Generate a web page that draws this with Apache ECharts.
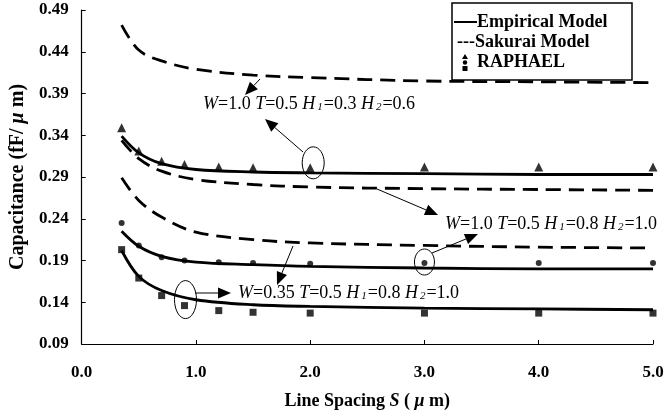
<!DOCTYPE html>
<html>
<head>
<meta charset="utf-8">
<script src="https://cdn.jsdelivr.net/npm/echarts@6/dist/echarts.min.js"></script>
<style>
  html, body { margin: 0; padding: 0; background: #fff; }
  #chart { width: 667px; height: 415px; }
</style>
</head>
<body>
<div id="chart"></div>
<script>
// Line spacing values (um) for the RAPHAEL field-solver points
const spacingRaphael = [0.35, 0.5, 0.7, 0.9, 1.2, 1.5, 2.0, 3.0, 4.0, 5.0];
// Line spacing values (um) for the model curves
const spacingModel = [0.35, 0.5, 0.7, 1.0, 1.5, 2.0, 3.0, 4.0, 5.0];

// W=1.0 T=0.5 H1=0.3 H2=0.6
const raphaelA   = [0.349, 0.321, 0.309, 0.305, 0.302, 0.301, 0.301, 0.302, 0.302, 0.302];
const empiricalA = [0.339, 0.319, 0.306, 0.299, 0.296, 0.295, 0.294, 0.293, 0.293];
const sakuraiA   = [0.472, 0.442, 0.429, 0.419, 0.412, 0.409, 0.405, 0.404, 0.403];

// W=1.0 T=0.5 H1=0.8 H2=1.0
const raphaelB   = [0.235, 0.208, 0.194, 0.190, 0.188, 0.187, 0.186, 0.187, 0.187, 0.187];
const empiricalB = [0.225, 0.207, 0.195, 0.188, 0.185, 0.183, 0.181, 0.180, 0.180];
const sakuraiB   = [0.334, 0.312, 0.297, 0.287, 0.281, 0.278, 0.276, 0.275, 0.274];

// W=0.35 T=0.5 H1=0.8 H2=1.0
const raphaelC   = [0.203, 0.169, 0.148, 0.136, 0.130, 0.128, 0.127, 0.127, 0.127, 0.127];
const empiricalC = [0.202, 0.171, 0.154, 0.143, 0.137, 0.135, 0.133, 0.132, 0.131];
const sakuraiC   = [0.289, 0.262, 0.242, 0.224, 0.215, 0.211, 0.208, 0.206, 0.205];

const yTicks = [0.09, 0.14, 0.19, 0.24, 0.29, 0.34, 0.39, 0.44, 0.49];
const xTicks = [0.0, 1.0, 2.0, 3.0, 4.0, 5.0];

const FONT = '"Liberation Serif", "DejaVu Serif", serif';
const pair = (xs, ys) => xs.map((x, i) => [x, ys[i]]);

function solid(name, ys) {
  return { name, type: 'line', data: pair(spacingModel, ys), smooth: 0.35,
    showSymbol: false, lineStyle: { color: '#000', width: 2.8 }, z: 3, silent: true };
}
function dashed(name, ys) {
  return { name, type: 'line', data: pair(spacingModel, ys), smooth: 0.35,
    showSymbol: false, lineStyle: { color: '#000', width: 2.8, type: [15, 8] }, z: 2, silent: true };
}
function points(name, ys, symbol, size) {
  return { name, type: 'scatter', data: pair(spacingRaphael, ys), symbol, symbolSize: size,
    itemStyle: { color: '#000' }, z: 4, silent: true };
}

const chart = echarts.init(document.getElementById('chart'), null, { renderer: 'canvas' });

const rich = {
  i: { fontFamily: FONT, fontStyle: 'italic', fontSize: 18, color: '#000' },
  n: { fontFamily: FONT, fontSize: 18, color: '#000' },
  s: { fontFamily: FONT, fontStyle: 'italic', fontSize: 11, color: '#000', verticalAlign: 'bottom', padding: [7, 1, 0, 2] }
};
function paramText(w, t, h1, h2) {
  return '{i|W}{n|=' + w + ' }{i|T}{n|=' + t + ' }{i|H}{s|1}{n|=' + h1 + ' }{i|H}{s|2}{n|=' + h2 + '}';
}

const titleRich = {
  it: { fontFamily: FONT, fontWeight: 'bold', fontStyle: 'italic', fontSize: 18, color: '#000' }
};

chart.setOption({
  animation: false,
  backgroundColor: '#fff',
  grid: { left: 79, right: 14, top: 10, bottom: 69, containLabel: false },
  xAxis: {
    type: 'value', min: 0, max: 5, interval: 1,
    name: 'Line Spacing {it|S} ( {it|μ} m)', nameLocation: 'middle', nameGap: 48,
    nameTextStyle: { fontFamily: FONT, fontWeight: 'bold', fontSize: 18, color: '#000', rich: titleRich },
    axisLine: { lineStyle: { color: '#000', width: 1.2 } },
    axisTick: { inside: true, length: 4, lineStyle: { color: '#000' } },
    splitLine: { show: false },
    axisLabel: { fontFamily: FONT, fontWeight: 'bold', fontSize: 17, color: '#000', margin: 20,
      formatter: v => { const t = xTicks.find(k => Math.abs(k - v) < 1e-6); return t === undefined ? '' : t.toFixed(1); } }
  },
  yAxis: {
    type: 'value', min: yTicks[0], max: yTicks[yTicks.length - 1], interval: 0.05,
    name: 'Capacitance (fF/ {it|μ} m)', nameLocation: 'middle', nameGap: 47, nameRotate: 90,
    nameTextStyle: { fontFamily: FONT, fontWeight: 'bold', fontSize: 20, color: '#000',
      rich: { it: { fontFamily: FONT, fontWeight: 'bold', fontStyle: 'italic', fontSize: 20, color: '#000' } } },
    axisLine: { show: true, lineStyle: { color: '#000', width: 1.2 } },
    axisTick: { show: true, inside: true, length: 4, lineStyle: { color: '#000' } },
    splitLine: { show: false },
    axisLabel: { fontFamily: FONT, fontWeight: 'bold', fontSize: 17, color: '#000', margin: 13,
      formatter: v => v.toFixed(2) }
  },
  series: [
    dashed('Sakurai Model A', sakuraiA),
    dashed('Sakurai Model B', sakuraiB),
    dashed('Sakurai Model C', sakuraiC),
    solid('Empirical Model A', empiricalA),
    solid('Empirical Model B', empiricalB),
    solid('Empirical Model C', empiricalC),
    points('RAPHAEL A', raphaelA, 'triangle', 9),
    points('RAPHAEL B', raphaelB, 'circle', 6),
    points('RAPHAEL C', raphaelC, 'rect', 7)
  ]
});

// Annotation callouts: parameter labels, ellipses around selected points and pointer arrows
function arrow(x1, y1, x2, y2) {
  const ang = Math.atan2(y2 - y1, x2 - x1);
  const hl = 13, hw = 5.5;
  const bx = x2 - hl * Math.cos(ang), by = y2 - hl * Math.sin(ang);
  const px = -Math.sin(ang) * hw, py = Math.cos(ang) * hw;
  return [
    { type: 'line', shape: { x1, y1, x2: bx, y2: by }, style: { stroke: '#000', lineWidth: 1 }, silent: true },
    { type: 'polygon', shape: { points: [[x2, y2], [bx + px, by + py], [bx - px, by - py]] }, style: { fill: '#000' }, silent: true }
  ];
}
function ellipseAt(sx, v, dx, dy, rx, ry) {
  const p = chart.convertToPixel({ gridIndex: 0 }, [sx, v]);
  return { type: 'ellipse', shape: { cx: p[0] + dx, cy: p[1] + dy, rx, ry },
    style: { fill: 'none', stroke: '#000', lineWidth: 1 }, silent: true };
}
function label(x, y, text) {
  return { type: 'text', x, y, style: { text, rich, fontFamily: FONT, fontSize: 18, verticalAlign: 'middle', align: 'left' }, silent: true };
}

const g = [];
g.push(label(203, 104, paramText('1.0', '0.5', '0.3', '0.6')));
g.push(label(445, 224, paramText('1.0', '0.5', '0.8', '1.0')));
g.push(label(238, 293, paramText('0.35', '0.5', '0.8', '1.0')));
g.push(ellipseAt(2.0, raphaelA[6], 3, -5, 11, 16));
g.push(ellipseAt(3.0, raphaelB[7], 0, -1, 10, 13));
g.push(ellipseAt(0.9, raphaelC[3], 1, -6, 11, 19));
g.push(...arrow(260, 79, 245, 95));
g.push(...arrow(303, 152, 265, 119));
g.push(...arrow(377, 189, 438, 215));
g.push(...arrow(432, 253, 478, 234));
g.push(...arrow(195, 293, 231, 293));
g.push(...arrow(293, 246, 277, 285));

// Legend box
g.push({ type: 'rect', shape: { x: 452, y: 3, width: 180, height: 77 }, style: { fill: '#fff', stroke: '#000', lineWidth: 1.5 }, z: 10, silent: true });
g.push({ type: 'line', shape: { x1: 454, y1: 22, x2: 477, y2: 22 }, style: { stroke: '#000', lineWidth: 2 }, z: 11, silent: true });
g.push({ type: 'text', x: 477, y: 22, style: { text: 'Empirical Model', fontFamily: FONT, fontWeight: 'bold', fontSize: 18, fill: '#000', verticalAlign: 'middle' }, z: 11, silent: true });
g.push({ type: 'text', x: 457, y: 42, style: { text: '---Sakurai Model', fontFamily: FONT, fontWeight: 'bold', fontSize: 18, fill: '#000', verticalAlign: 'middle' }, z: 11, silent: true });
g.push({ type: 'polygon', shape: { points: [[465, 54], [462, 59], [468, 59]] }, style: { fill: '#000' }, z: 11, silent: true });
g.push({ type: 'circle', shape: { cx: 465, cy: 62.5, r: 2.2 }, style: { fill: '#000' }, z: 11, silent: true });
g.push({ type: 'rect', shape: { x: 462.5, y: 66, width: 5, height: 5 }, style: { fill: '#000' }, z: 11, silent: true });
g.push({ type: 'text', x: 477, y: 62, style: { text: 'RAPHAEL', fontFamily: FONT, fontWeight: 'bold', fontSize: 18, fill: '#000', verticalAlign: 'middle' }, z: 11, silent: true });

chart.setOption({ graphic: g });
</script>
</body>
</html>
